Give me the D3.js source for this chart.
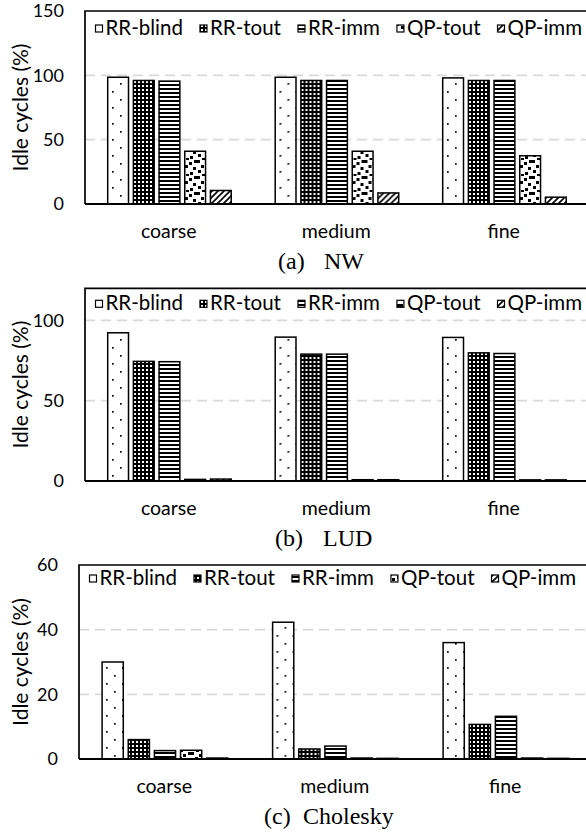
<!DOCTYPE html>
<html><head><meta charset="utf-8">
<script src="https://cdn.jsdelivr.net/npm/d3@7"></script>
<style>body{margin:0;background:#fff}</style></head>
<body><svg id="c" width="586" height="833"></svg>
<script>
// ---------- data ----------
const categories = ["coarse", "medium", "fine"];
const seriesNames = ["RR-blind", "RR-tout", "RR-imm", "QP-tout", "QP-imm"];
// values per category, in series order
const nwValues  = [[98.5, 96, 95.5, 41, 10.5], [98.5, 96, 96, 41, 8.6], [98, 96, 96, 37.5, 5.3]];
const ludValues = [[92.3, 74.5, 74.3, 1.0, 1.2], [89.6, 79, 79, 0.8, 0.8], [89.4, 79.8, 79.4, 0.7, 0.7]];
const choValues = [[30, 6, 2.6, 2.7, 0.3], [42.3, 3.1, 4.0, 0.3, 0.2], [36, 10.7, 13.2, 0.3, 0.2]];
const nwTicks  = [0, 50, 100, 150];
const ludTicks = [0, 50, 100];
const choTicks = [0, 20, 40, 60];
const yTitle = "Idle cycles (%)";
const captions = [["(a)", "NW"], ["(b)", "LUD"], ["(c)", "Cholesky"]];

// ---------- setup ----------
const svg = d3.select("#c");
const defs = svg.append("defs");
const SANS = "Lato, 'Open Sans', sans-serif";
const SERIF = "'Liberation Serif', 'Times New Roman', serif";

function pat(id, w, h, build) {
  const p = defs.append("pattern").attr("id", id).attr("patternUnits", "userSpaceOnUse")
    .attr("width", w).attr("height", h);
  build(p);
}
// RR-blind: sparse dots
pat("p0", 16, 16, p => {
  p.append("rect").attr("width", 16).attr("height", 16).attr("fill", "#fff");
  p.append("rect").attr("x", 3).attr("y", 3).attr("width", 1.7).attr("height", 1.7).attr("fill", "#000");
  p.append("rect").attr("x", 11).attr("y", 11).attr("width", 1.7).attr("height", 1.7).attr("fill", "#000");
});
// RR-tout: black with white small squares
pat("p1", 4, 4, p => {
  p.append("rect").attr("width", 4).attr("height", 4).attr("fill", "#000");
  p.append("rect").attr("x", 1).attr("y", 1).attr("width", 2).attr("height", 2).attr("fill", "#fff");
});
// RR-imm: horizontal stripes
pat("p2", 4, 4, p => {
  p.append("rect").attr("width", 4).attr("height", 4).attr("fill", "#fff");
  p.append("rect").attr("y", 0).attr("width", 4).attr("height", 2).attr("fill", "#000");
});
// QP-tout: large confetti
pat("p3", 16, 16, p => {
  p.append("rect").attr("width", 16).attr("height", 16).attr("fill", "#fff");
  [[0,0],[8,2],[4,5],[12,7],[1,10],[9,12],[5,14],[13,0]].forEach(([x, y]) =>
    p.append("rect").attr("x", x).attr("y", y).attr("width", 3).attr("height", 3).attr("fill", "#000"));
});
// QP-imm: wide upward diagonal
pat("p4", 6, 6, p => {
  p.append("rect").attr("width", 6).attr("height", 6).attr("fill", "#fff");
  p.append("path").attr("d", "M0,6 L6,0 M-1,1 L1,-1 M5,7 L7,5").attr("stroke", "#000").attr("stroke-width", 1.6);
});
const fills = seriesNames.map((s, i) => `url(#p${i})`);

function drawPanel(cfg) {
  const g = svg.append("g");
  const right = 596;
  const y = d3.scaleLinear().domain([0, cfg.yMax]).range([cfg.bottom, cfg.top]);
  const x0 = d3.scaleBand().domain(categories).range([cfg.left, cfg.left + cfg.band * 3]);
  const x1 = d3.scaleBand().domain(seriesNames)
    .range([0.1355 * cfg.band, 0.873 * cfg.band]).paddingInner(0.19);

  // gridlines
  g.append("g").selectAll("line").data(cfg.ticks.filter(t => t > 0 && t < cfg.yMax)).join("line")
    .attr("x1", cfg.left).attr("x2", right).attr("y1", d => y(d)).attr("y2", d => y(d))
    .attr("stroke", "#d9d9d9").attr("stroke-width", 1.7).attr("stroke-dasharray", "10,6");

  // frame
  g.append("path").attr("d", `M${right},${y(cfg.yMax)} H${cfg.left} V${y(0)}`)
    .attr("fill", "none").attr("stroke", "#000").attr("stroke-width", 1.7);

  // y axis labels
  const ya = g.append("g").attr("transform", `translate(${cfg.left},0)`)
    .call(d3.axisLeft(y).tickValues(cfg.ticks).tickSize(0).tickPadding(21));
  ya.select(".domain").remove();
  ya.selectAll("text").attr("font-family", SANS).attr("font-size", 18).attr("fill", "#000");

  // y title
  g.append("text").attr("transform", `translate(19,${(cfg.top + cfg.bottom) / 2}) rotate(-90)`)
    .attr("text-anchor", "middle").attr("dominant-baseline", "central")
    .attr("font-family", SANS).attr("font-size", 21).text(yTitle);

  // bars
  const groups = g.append("g").selectAll("g").data(cfg.values).join("g")
    .attr("transform", (d, i) => `translate(${x0(categories[i])},0)`);
  groups.selectAll("rect").data(d => d).join("rect")
    .attr("x", (d, j) => x1(seriesNames[j])).attr("width", x1.bandwidth())
    .attr("y", d => y(d)).attr("height", d => y(0) - y(d))
    .attr("fill", (d, j) => fills[j]).attr("stroke", "#000").attr("stroke-width", 1.5);

  // x axis line
  g.append("line").attr("x1", cfg.left).attr("x2", right).attr("y1", y(0)).attr("y2", y(0))
    .attr("stroke", "#000").attr("stroke-width", 2);

  // category labels
  const xa = g.append("g").attr("transform", `translate(0,${y(0)})`)
    .call(d3.axisBottom(x0).tickSize(0).tickPadding(0));
  xa.select(".domain").remove();
  xa.selectAll("text").attr("dy", null).attr("y", 34).attr("dominant-baseline", "alphabetic")
    .attr("font-family", SANS).attr("font-size", 19.5).attr("fill", "#000");

  // legend
  let lx = cfg.left + 10.5;
  const base = cfg.top + cfg.legendDy;
  seriesNames.forEach((s, j) => {
    g.append("rect").attr("x", lx).attr("y", base - 10).attr("width", 7).attr("height", 7)
      .attr("fill", fills[j]).attr("stroke", "#000").attr("stroke-width", 1.2);
    const t = g.append("text").attr("x", lx + 10).attr("y", base)
      .attr("font-family", SANS).attr("font-size", 20.5).text(s);
    lx += 10 + t.node().getComputedTextLength() + 17;
  });

  // caption
  const cap = g.append("text").attr("y", y(0) + 65)
    .attr("font-family", SERIF).attr("font-size", 24);
  cap.append("tspan").attr("x", cfg.capX[0]).text(captions[cfg.idx][0]);
  cap.append("tspan").attr("x", cfg.capX[1]).text(captions[cfg.idx][1]);
}

drawPanel({idx: 0, values: nwValues, ticks: nwTicks, yMax: 150, top: 11, bottom: 204,
  left: 85, band: 167.5, legendDy: 24, capX: [278, 324]});
drawPanel({idx: 1, values: ludValues, ticks: ludTicks, yMax: 120, top: 288.3, bottom: 481,
  left: 85, band: 167.5, legendDy: 22, capX: [275, 323]});
drawPanel({idx: 2, values: choValues, ticks: choTicks, yMax: 60, top: 565, bottom: 759,
  left: 79, band: 170.5, legendDy: 20, capX: [264, 303]});
</script>
</body></html>
